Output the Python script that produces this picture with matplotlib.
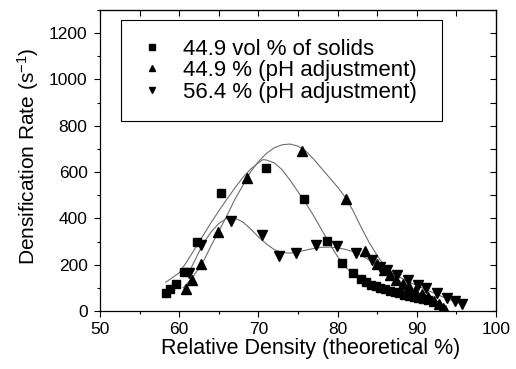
import matplotlib
matplotlib.use("Agg")
import matplotlib.pyplot as plt
from matplotlib.ticker import MultipleLocator
from matplotlib.patches import Rectangle

plt.rcParams['font.family'] = ['Liberation Sans', 'DejaVu Sans']
plt.rcParams['mathtext.default'] = 'regular'

# 44.9 vol % of solids (squares)
sq_x = [58.3, 58.9, 59.6, 60.6, 62.2, 65.3, 70.9, 75.8, 78.7, 80.5, 81.9, 83.0,
        83.6, 84.2, 84.8, 85.4, 86.0, 86.6, 87.2, 87.8, 88.4, 89.0, 89.6, 90.2,
        90.8, 91.4]
sq_y = [77, 95, 117, 167, 296, 510, 616, 483, 303, 207, 165, 140,
        126, 114, 106, 99, 93, 87, 81, 76, 71, 66, 61, 57, 52, 46]

# 44.9 % (pH adjustment) (up triangles)
up_x = [60.8, 61.6, 62.8, 64.9, 68.6, 75.5, 81.1, 83.5, 85.0, 85.8, 86.6, 87.4,
        88.2, 89.0, 89.8, 90.6, 91.4, 92.2, 92.8, 93.3, 93.6]
up_y = [94, 134, 204, 342, 576, 690, 483, 259, 205, 178, 155, 135,
        118, 102, 88, 74, 60, 45, 30, 15, 4]

# 56.4 % (pH adjustment) (down triangles)
dn_x = [61.3, 62.8, 66.5, 70.4, 72.6, 74.7, 77.3, 79.9, 82.3, 84.4, 85.4, 86.3,
        87.5, 88.9, 90.2, 91.2, 92.5, 93.8, 94.8, 95.7]
dn_y = [162, 283, 390, 330, 239, 252, 284, 279, 250, 219, 191, 177,
        155, 134, 112, 98, 77, 56, 42, 30]

# fitted curves
sq_fit_x = [58.3, 60, 61, 62, 63, 64, 65, 66, 67, 68, 69, 70, 70.6, 71, 72, 73,
            74, 75, 76, 77, 78, 79, 80, 81, 82, 83, 84, 85, 86, 87, 88, 89, 90,
            91, 91.5]
sq_fit_y = [124, 165, 215, 270, 325, 380, 432, 482, 530, 575, 612, 640, 654, 652,
            640, 610, 565, 515, 465, 410, 350, 290, 235, 190, 160, 140, 122, 108,
            96, 86, 76, 67, 58, 50, 45]

up_fit_x = [60.5, 61.6, 63, 64, 65, 66, 67, 68, 69, 70, 71, 72, 73, 74, 75, 76,
            77, 78, 79, 80, 81, 82, 83, 84, 85, 86, 87, 88, 89, 90, 91, 92, 93,
            93.8]
up_fit_y = [100, 141, 210, 280, 345, 410, 480, 540, 600, 645, 680, 705, 718, 721,
            712, 690, 655, 615, 575, 535, 490, 430, 360, 295, 240, 190, 155, 125,
            100, 77, 58, 42, 22, 5]

dn_fit_x = [61, 62, 63, 64, 65, 66, 66.6, 67, 68, 69, 70, 71, 72, 73, 74, 75, 76,
            77, 78, 79, 80, 81, 82, 83, 84, 85, 86, 87, 88, 89, 90, 91, 92, 93,
            94, 95, 96]
dn_fit_y = [150, 220, 290, 340, 378, 400, 405, 402, 385, 355, 320, 290, 265, 252,
            250, 255, 263, 270, 275, 276, 273, 266, 256, 240, 220, 200, 180, 162,
            143, 125, 110, 95, 80, 65, 50, 38, 25]

fig = plt.figure(figsize=(5.16, 3.69), dpi=100)
ax = fig.add_axes([0.1938, 0.1572, 0.7674, 0.8157])

line_kw = dict(color="#6e6e6e", lw=0.8, zorder=1)
ax.plot(sq_fit_x, sq_fit_y, **line_kw)
ax.plot(up_fit_x, up_fit_y, **line_kw)
ax.plot(dn_fit_x, dn_fit_y, **line_kw)

ax.plot(sq_x, sq_y, "s", color="black", ms=6, ls="none", zorder=3,
        label="44.9 vol % of solids")
ax.plot(up_x, up_y, "^", color="black", ms=7, ls="none", zorder=3,
        label="44.9 % (pH adjustment)")
ax.plot(dn_x, dn_y, "v", color="black", ms=7, ls="none", zorder=3,
        label="56.4 % (pH adjustment)")

ax.set_xlim(50, 100)
ax.set_ylim(0, 1300)
ax.xaxis.set_major_locator(MultipleLocator(10))
ax.xaxis.set_minor_locator(MultipleLocator(5))
ax.yaxis.set_minor_locator(MultipleLocator(100))
ax.set_yticks([0, 200, 400, 600, 800, 1000, 1200])

ax.tick_params(which="both", direction="out", labelsize=12.5, width=0.8)
ax.tick_params(axis="x", pad=4)
ax.tick_params(axis="y", pad=5)
ax.tick_params(which="major", length=4)
ax.tick_params(which="minor", length=2.5)
for sp in ax.spines.values():
    sp.set_linewidth(0.9)

# mirrored inward ticks on top and right
top = ax.secondary_xaxis("top")
top.xaxis.set_major_locator(MultipleLocator(5))
top.tick_params(direction="in", length=4, labeltop=False, width=0.8)
right = ax.secondary_yaxis("right")
right.yaxis.set_major_locator(MultipleLocator(100))
right.tick_params(direction="in", length=4, labelright=False, width=0.8)

ax.set_xlabel("Relative Density (theoretical %)", fontsize=15.5)
ax.set_ylabel("Densification Rate (s$^{-1}$)", fontsize=15)
ax.xaxis.set_label_coords(0.533, -0.091)
ax.yaxis.set_label_coords(-0.15, 0.513)

# legend box drawn separately so the padding matches the original
ax.add_patch(Rectangle((0.053, 0.631), 0.811, 0.336, transform=ax.transAxes,
                       facecolor="white", edgecolor="black", lw=0.8, zorder=4))
leg = ax.legend(loc="upper left", bbox_to_anchor=(0.102, 0.905), fontsize=16,
                markerscale=0.7, frameon=False, borderpad=0, borderaxespad=0,
                handletextpad=0.91, labelspacing=0.03, handlelength=1.0)
leg.set_zorder(5)

fig.savefig("out.png", dpi=100)
